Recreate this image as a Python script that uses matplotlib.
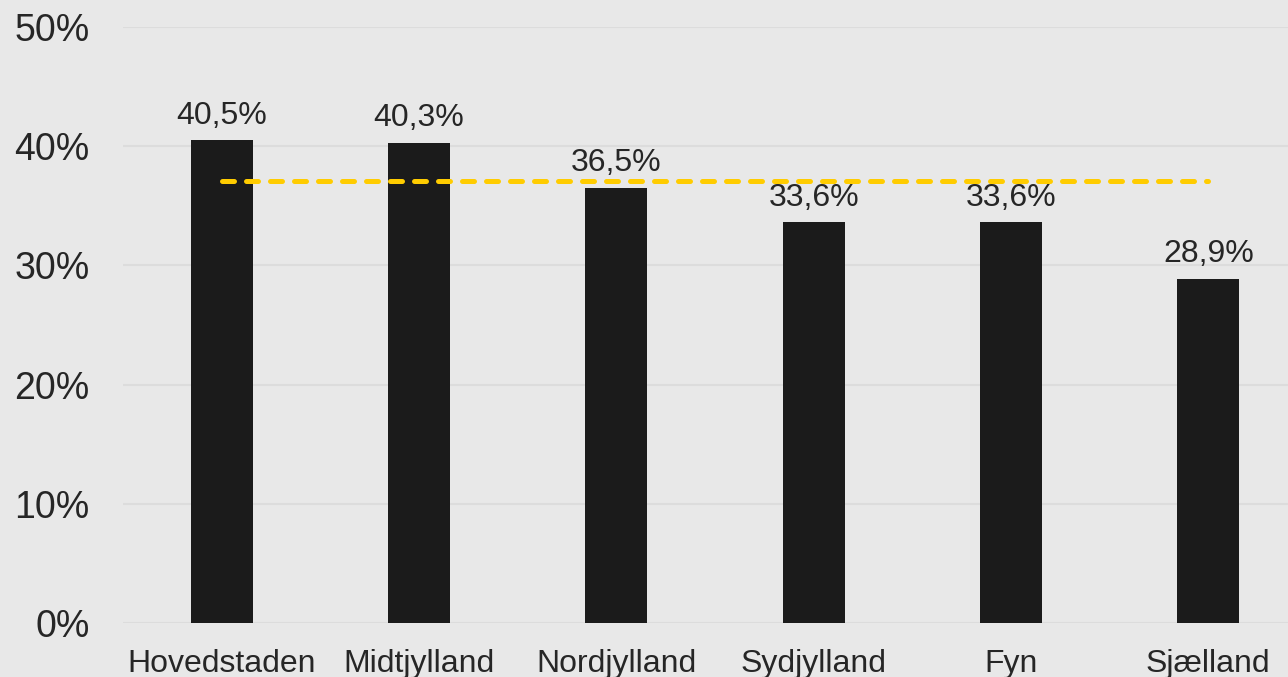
import matplotlib
matplotlib.use("Agg")
import matplotlib.pyplot as plt

categories = ["Hovedstaden", "Midtjylland", "Nordjylland", "Sydjylland", "Fyn", "Sjælland"]
values = [40.5, 40.3, 36.5, 33.6, 33.6, 28.9]
average = 37.1
yticks = [0, 10, 20, 30, 40, 50]

plt.rcParams['font.family'] = ['Liberation Sans', 'DejaVu Sans']
bg = "#e8e8e8"
txt = "#262626"

fig = plt.figure(figsize=(12.88, 6.77), dpi=100, facecolor=bg)
ax = fig.add_axes([123/1288, 54/677, (1307-123)/1288, 596/677])
ax.set_facecolor(bg)

x = list(range(len(categories)))
ax.bar(x, values, width=0.314, color="#1b1b1b", zorder=3)
ax.plot([x[0], x[-1]], [average, average], color="#ffcc00", lw=3.6,
        dashes=(2.4, 2.4), dash_capstyle="round", zorder=4)

for xi, v in zip(x, values):
    ax.annotate(f"{v:.1f}%".replace(".", ","), (xi, v), xytext=(0, 12),
                textcoords="offset points", ha="center", va="baseline",
                fontsize=23, color=txt, zorder=5)

ax.set_xlim(-0.5, 5.5)
ax.set_ylim(0, 50)
ax.set_yticks(yticks)
ax.set_yticklabels([f"{t}%" for t in yticks])
ax.set_xticks(x)
ax.set_xticklabels(categories)
ax.tick_params(axis="y", length=0, pad=24, labelsize=27, labelcolor=txt)
ax.tick_params(axis="x", length=0, pad=18.5, labelsize=23, labelcolor=txt)
ax.grid(axis="y", color="#dcdcdc", lw=1.5, zorder=0)
ax.set_axisbelow(True)
for s in ax.spines.values():
    s.set_visible(False)

fig.savefig("out.png", dpi=100, facecolor=bg)
